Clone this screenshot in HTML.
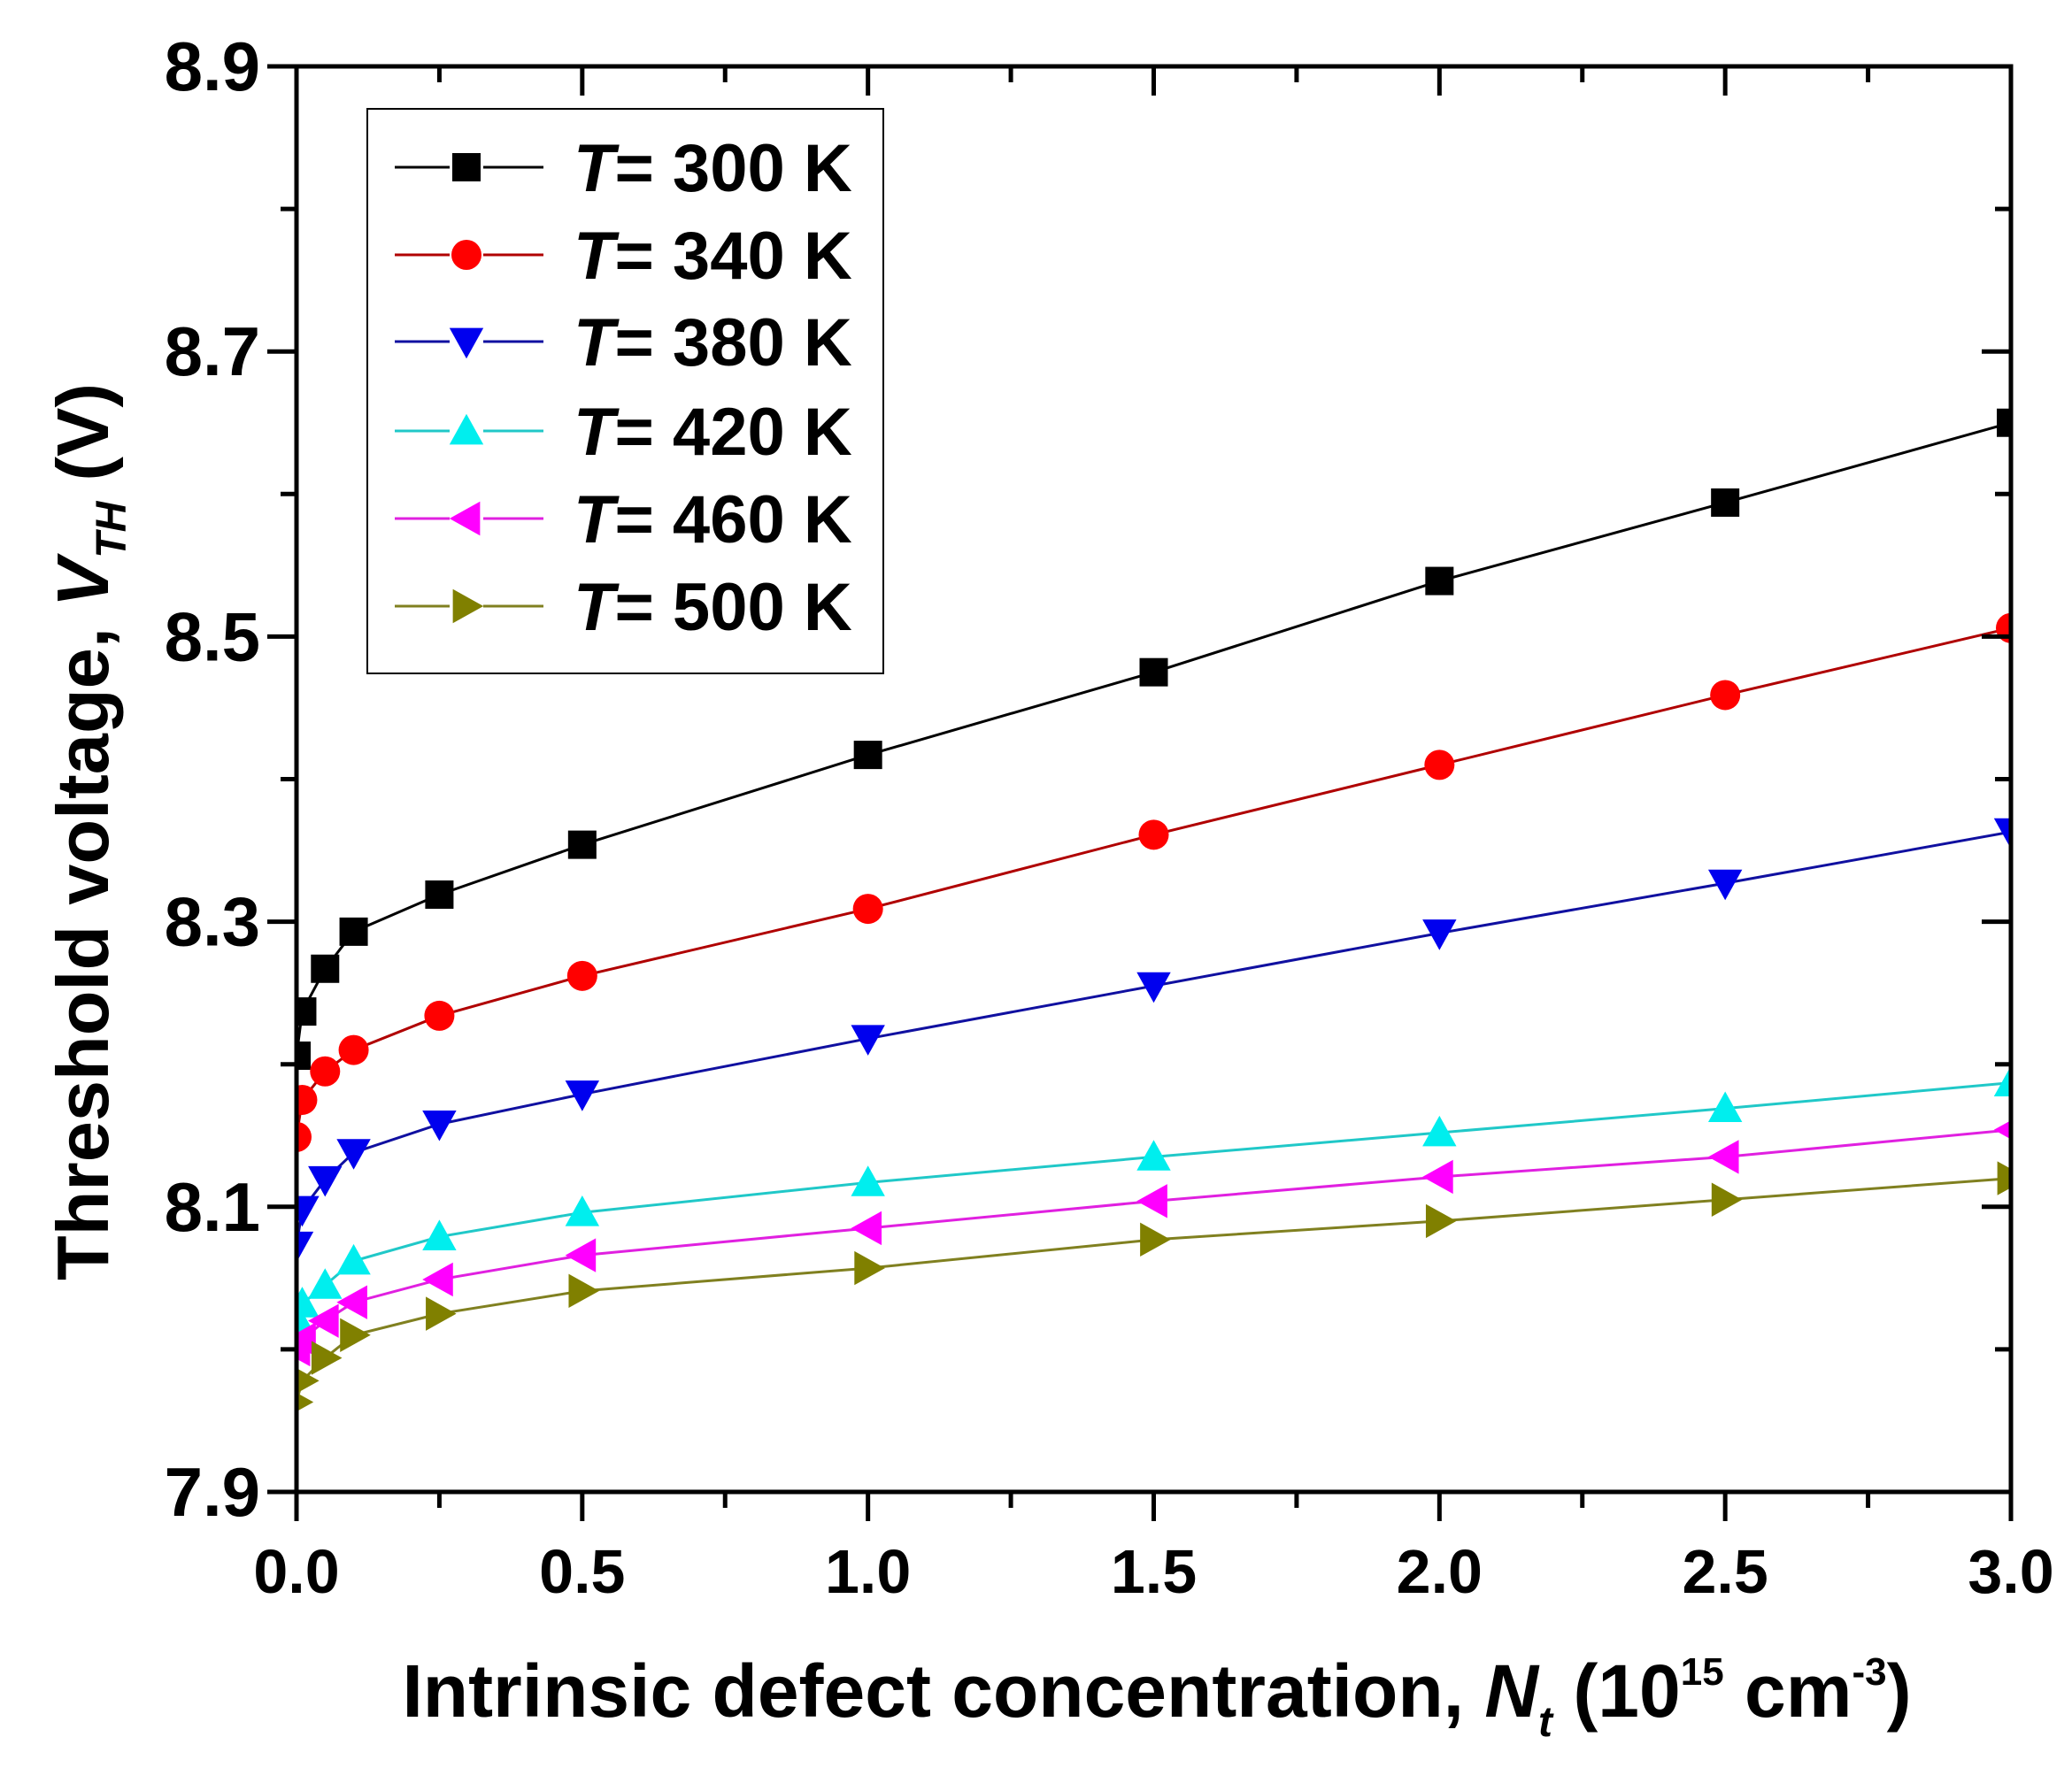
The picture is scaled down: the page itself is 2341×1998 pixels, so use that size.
<!DOCTYPE html>
<html><head><meta charset="utf-8"><style>
html,body{margin:0;padding:0;background:#fff}
svg{display:block}
text{font-family:"Liberation Sans",Arial,sans-serif;font-weight:bold;fill:#000}
</style></head><body>
<svg id="chart" width="2341" height="1998" viewBox="0 0 2341 1998" xmlns="http://www.w3.org/2000/svg">
<defs><clipPath id="plotclip"><rect x="335" y="75" width="1937" height="1611"/></clipPath></defs>
<g id="grid"></g>
<g id="series" clip-path="url(#plotclip)"></g>
<g id="axes"></g>
<g id="legend"></g>
</svg>
<script>
const xValues = [0, 0.01, 0.05, 0.1, 0.25, 0.5, 1, 1.5, 2, 2.5, 3];
const seriesNames = ["300 K", "340 K", "380 K", "420 K", "460 K", "500 K"];
const v300 = [8.206, 8.237, 8.267, 8.293, 8.319, 8.354, 8.417, 8.475, 8.539, 8.594, 8.650];
const v340 = [8.149, 8.175, 8.195, 8.210, 8.234, 8.262, 8.309, 8.361, 8.410, 8.459, 8.506];
const v380 = [8.073, 8.098, 8.119, 8.138, 8.158, 8.179, 8.218, 8.255, 8.292, 8.327, 8.363];
const v420 = [8.022, 8.032, 8.045, 8.062, 8.079, 8.096, 8.117, 8.135, 8.152, 8.169, 8.187];
const v460 = [8.000, 8.007, 8.020, 8.033, 8.049, 8.066, 8.085, 8.104, 8.121, 8.135, 8.154];
const v500 = [7.963, 7.978, 7.994, 8.010, 8.025, 8.041, 8.057, 8.077, 8.090, 8.105, 8.120];
const xTickLabels = ["0.0", "0.5", "1.0", "1.5", "2.0", "2.5", "3.0"];
const yTickLabels = ["7.9", "8.1", "8.3", "8.5", "8.7", "8.9"];

const NS = "http://www.w3.org/2000/svg";
const L = 335, R = 2272, T = 75, B = 1686;
const xMin = 0, xMax = 3, yMin = 7.9, yMax = 8.9;
function xs(v){ return L + (v - xMin) / (xMax - xMin) * (R - L); }
function ys(v){ return B - (v - yMin) / (yMax - yMin) * (B - T); }
function mk(tag, attrs, parent){
  const e = document.createElementNS(NS, tag);
  for (const k in attrs) e.setAttribute(k, attrs[k]);
  parent.appendChild(e); return e;
}
const axes = document.getElementById('axes');
const seriesG = document.getElementById('series');
const legendG = document.getElementById('legend');

const allSeries = [v300, v340, v380, v420, v460, v500];
const colors = ["#000000", "#ff0000", "#0000ee", "#00eeee", "#ff00ff", "#808000"];
const lineColors = ["#000000", "#b00000", "#1010a0", "#20c8c8", "#e020e0", "#808020"];
const shapes = ["square", "circle", "down", "up", "left", "right"];

function marker(shape, cx, cy, color, parent){
  const s = 16;
  let el;
  if (shape === "square") el = mk('rect', {x: cx - s, y: cy - s, width: 2*s, height: 2*s, fill: color}, parent);
  else if (shape === "circle") el = mk('circle', {cx: cx, cy: cy, r: s + 1, fill: color}, parent);
  else {
    let p;
    const a = s * 1.2;
    if (shape === "down") p = [[cx-a, cy-a*0.8], [cx+a, cy-a*0.8], [cx, cy+a]];
    if (shape === "up") p = [[cx-a, cy+a*0.8], [cx+a, cy+a*0.8], [cx, cy-a]];
    if (shape === "left") p = [[cx+a*0.8, cy-a], [cx+a*0.8, cy+a], [cx-a, cy]];
    if (shape === "right") p = [[cx-a*0.8, cy-a], [cx-a*0.8, cy+a], [cx+a, cy]];
    el = mk('polygon', {points: p.map(q => q.join(',')).join(' '), fill: color}, parent);
  }
  return el;
}

allSeries.forEach((vals, i) => {
  const g = mk('g', {}, seriesG);
  
  
  const pts = vals.map((v, j) => xs(xValues[j]) + ',' + ys(v)).join(' ');
  const pl = mk('polyline', {points: pts, fill: 'none', stroke: lineColors[i], 'stroke-width': 3}, g);
  
  
  vals.forEach((v, j) => {
    const m = marker(shapes[i], xs(xValues[j]), ys(v), colors[i], g);
    
    
  });
});

const frame = mk('rect', {x: L, y: T, width: R - L, height: B - T, fill: 'none', stroke: '#000', 'stroke-width': 5}, axes);



for (let k = 0; k <= 12; k++) {
  const v = k * 0.25, x = xs(v), major = k % 2 === 0;
  const len = major ? 33 : 18;
  const t1 = mk('line', {x1: x, x2: x, y1: B, y2: B + len, stroke: '#000', 'stroke-width': 5}, axes);
  
  
  const t2 = mk('line', {x1: x, x2: x, y1: T, y2: T + len, stroke: '#000', 'stroke-width': 5}, axes);
  
  
}
xTickLabels.forEach((lab) => {
  const t = mk('text', {x: xs(parseFloat(lab)), y: 1800, 'font-size': 70, 'text-anchor': 'middle'}, axes);
  t.textContent = lab;
  
  
});
for (let k = 0; k <= 10; k++) {
  const v = 7.9 + k * 0.1, y = ys(v), major = k % 2 === 0;
  const len = major ? 33 : 18;
  const t1 = mk('line', {x1: L - len, x2: L, y1: y, y2: y, stroke: '#000', 'stroke-width': 5}, axes);
  
  
  const t2 = mk('line', {x1: R - len, x2: R, y1: y, y2: y, stroke: '#000', 'stroke-width': 5}, axes);
  
  
}
yTickLabels.forEach((lab) => {
  const t = mk('text', {x: 294, y: ys(parseFloat(lab)) + 27, 'font-size': 78, 'text-anchor': 'end'}, axes);
  t.textContent = lab;
  
  
});

const box = mk('rect', {x: 415, y: 123, width: 583, height: 638, fill: '#fff', stroke: '#000', 'stroke-width': 2}, legendG);


const rowsY = [189, 288, 386, 487, 586, 685];
seriesNames.forEach((nm, i) => {
  const g = mk('g', {}, legendG);
  
  
  const y = rowsY[i];
  mk('line', {x1: 446, x2: 614, y1: y, y2: y, stroke: lineColors[i], 'stroke-width': 3}, g);
  mk('rect', {x: 508, y: y - 22, width: 38, height: 44, fill: '#fff'}, g);
  marker(shapes[i], 527, y, colors[i], g);
  const t = mk('text', {x: 648, y: y + 27, 'font-size': 76}, g);
  t.innerHTML = '<tspan font-style="italic">T</tspan>= ' + nm;
});

const xt = mk('text', {x: 1307, y: 1940, 'font-size': 84, 'text-anchor': 'middle'}, axes);
xt.innerHTML = 'Intrinsic defect concentration, <tspan font-style="italic">N</tspan><tspan font-style="italic" font-size="48" dy="22">t</tspan><tspan dy="-22"> (10</tspan><tspan font-size="44" dy="-36">15</tspan><tspan dy="36"> cm</tspan><tspan font-size="44" dy="-36">-3</tspan><tspan dy="36">)</tspan>';


const yt = mk('text', {x: 0, y: 0, 'font-size': 83, 'text-anchor': 'middle', transform: 'translate(122,940) rotate(-90)'}, axes);
yt.innerHTML = 'Threshold voltage, <tspan font-style="italic">V</tspan><tspan font-style="italic" font-size="48" dy="20">TH</tspan><tspan dy="-20"> (V)</tspan>';


</script>
</body></html>
